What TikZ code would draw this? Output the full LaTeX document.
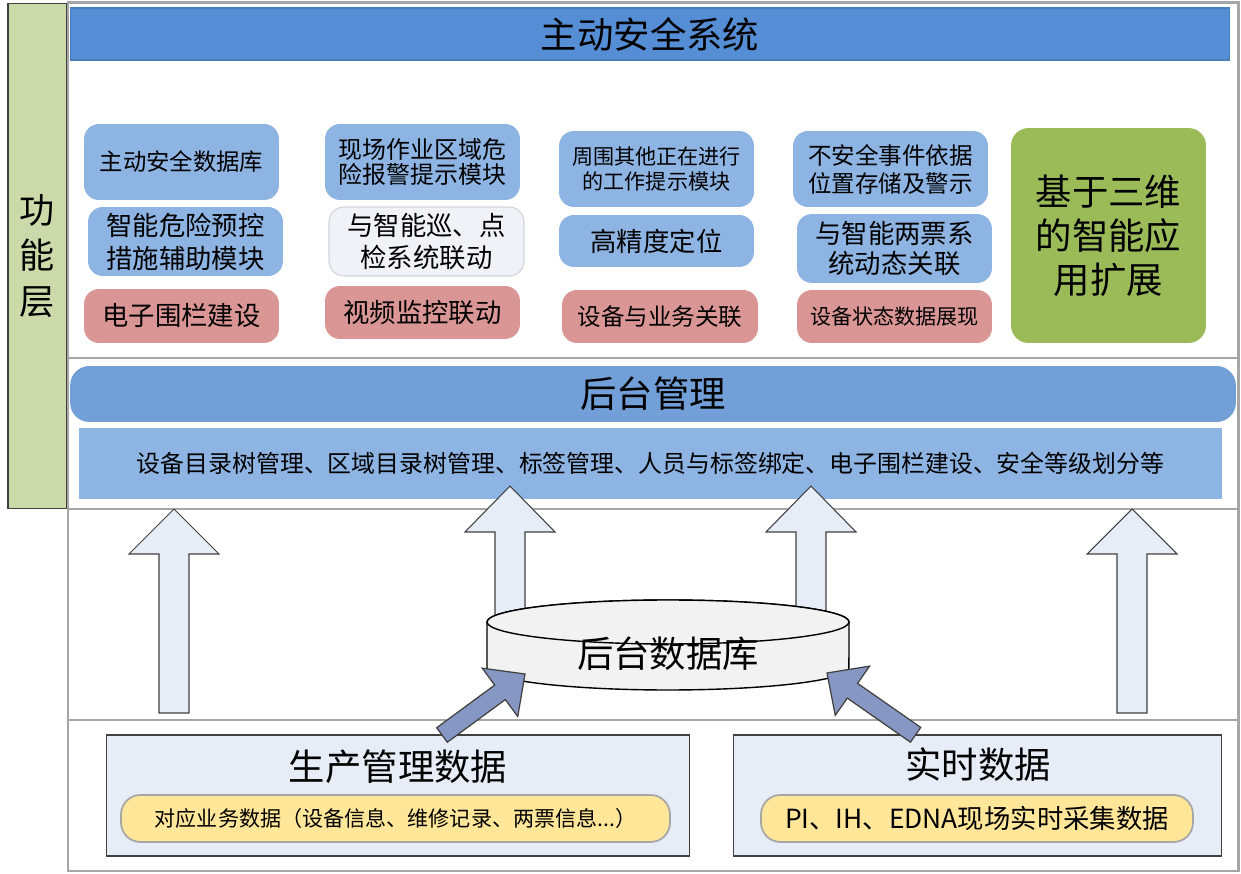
\documentclass[tikz,border=0pt]{standalone}
\usepackage{fontspec}
\setmainfont{Noto Sans CJK SC}
\usepackage{tikz}
\usetikzlibrary{positioning}

\definecolor{framegray}{RGB}{166,166,166}
\definecolor{edgedark}{RGB}{64,64,64}
\definecolor{layergreen}{RGB}{204,218,169}
\definecolor{sysblue}{RGB}{85,142,213}
\definecolor{sysedge}{RGB}{74,126,187}
\definecolor{mgmtblue}{RGB}{114,159,216}
\definecolor{lightblue}{RGB}{141,180,226}
\definecolor{modpinkc}{RGB}{218,150,148}
\definecolor{modgreenc}{RGB}{155,187,89}
\definecolor{palegray}{RGB}{239,242,247}
\definecolor{paleedge}{RGB}{208,212,218}
\definecolor{arrowfill}{RGB}{231,237,247}
\definecolor{diagfill}{RGB}{134,151,196}
\definecolor{dbgray}{RGB}{242,242,242}
\definecolor{paleyellow}{RGB}{255,230,153}

\tikzset{
  layerframe/.style={draw=framegray, line width=1.7pt},
  boxbase/.style={inner sep=0pt, align=center},
  boxsize/.style 2 args={minimum width=#1cm, minimum height=#2cm},
  modblue/.style={boxbase, fill=lightblue, rounded corners=8.5pt},
  modpink/.style={boxbase, fill=modpinkc, rounded corners=8.5pt},
  modgray/.style={boxbase, fill=palegray, draw=paleedge, line width=0.6pt, rounded corners=8.5pt},
  modgreen/.style={boxbase, fill=modgreenc, rounded corners=10pt},
  uparrow/.style={fill=arrowfill, draw=edgedark, line width=0.6pt},
  dataarrow/.style={fill=diagfill, draw=edgedark, line width=0.7pt},
  databox/.style={boxbase, fill=arrowfill, draw=edgedark, line width=0.6pt},
  yellowbox/.style={boxbase, fill=paleyellow, draw=framegray, line width=1pt, rounded corners=11pt}
}

\newcommand{\bigtext}{\fontsize{20.7}{25}\selectfont}

% block arrow pointing up: centre x, bottom y, tip y, head base y
\newcommand{\upblock}[4]{%
  \draw[uparrow] ({#1-15},#2) -- ({#1-15},#4) -- ({#1-45},#4) -- (#1,#3)
    -- ({#1+45},#4) -- ({#1+15},#4) -- ({#1+15},#2) -- cycle;}

% slanted block arrow: tip, direction back to the tail, length
\newcommand{\diagblock}[3]{%
  \begin{scope}[shift={#1}, rotate=#2]
    \draw[dataarrow] (0,0) -- (31,30) -- (31,9) -- (#3,9) -- (#3,-9)
      -- (31,-9) -- (31,-30) -- cycle;
  \end{scope}}

\begin{document}
\begin{tikzpicture}[x=0.02cm, y=-0.02cm]
    \useasboundingbox (0,0) rectangle (1241,874);
    % Layer label
    \node[boxbase, boxsize={1.18}{10.12}, fill=layergreen, draw=edgedark, line width=0.6pt,
      font=\fontsize{20}{26}\selectfont] (layer) at (37.5,256) {功\\能\\层};
    % Frames
    \draw[layerframe] (68,3) rectangle (1238,358);
    \draw[layerframe] (68,358) rectangle (1238,509);
    \draw[layerframe] (68,509) rectangle (1238,720);
    \draw[layerframe] (68,720) rectangle (1238,871);
    % Active safety system
    \node[boxbase, boxsize={23.2}{1.04}, fill=sysblue, draw=sysedge, line width=0.6pt,
      font=\bigtext] (sys) at (650,34) {主动安全系统};
    % Modules
    \node[modblue, boxsize={3.9}{1.52}, font=\fontsize{13.3}{16}\selectfont] (safedb) at (181.5,162) {主动安全数据库};
    \node[modblue, boxsize={3.9}{1.38}, font=\fontsize{15}{18.7}\selectfont] (precontrol) at (185.5,241.5) {智能危险预控\\措施辅助模块};
    \node[modpink, boxsize={3.9}{1.08}, font=\fontsize{15}{18.7}\selectfont] (fence) at (181.5,316) {电子围栏建设};
    \node[modblue, boxsize={3.9}{1.52}, font=\fontsize{13.6}{14.7}\selectfont] (alarm) at (422.5,162) {现场作业区域危\\险报警提示模块};
    \node[modgray, boxsize={3.9}{1.38}, font=\fontsize{15}{18.7}\selectfont] (patrol) at (426.5,241.5) {与智能巡、点\\检系统联动};
    \node[modpink, boxsize={3.9}{1.06}, font=\fontsize{15}{18.7}\selectfont] (video) at (422.5,312.5) {视频监控联动};
    \node[modblue, boxsize={3.9}{1.52}, font=\fontsize{12}{14.2}\selectfont] (nearby) at (656.5,169) {周围其他正在进行\\的工作提示模块};
    \node[modblue, boxsize={3.9}{1.04}, font=\fontsize{15}{18.7}\selectfont] (locate) at (656.5,241) {高精度定位};
    \node[modpink, boxsize={3.92}{1.06}, font=\fontsize{13.4}{16}\selectfont] (devlink) at (660,316.5) {设备与业务关联};
    \node[modblue, boxsize={3.9}{1.52}, font=\fontsize{13.4}{15.9}\selectfont] (unsafe) at (890.5,169) {不安全事件依据\\位置存储及警示};
    \node[modblue, boxsize={3.9}{1.38}, font=\fontsize{15}{17}\selectfont] (tickets) at (894.5,248.5) {与智能两票系\\统动态关联};
    \node[modpink, boxsize={3.9}{1.06}, font=\fontsize{12}{14.2}\selectfont] (devstate) at (894.5,316.5) {设备状态数据展现};
    \node[modgreen, boxsize={3.9}{4.3}, font=\bigtext] (threed) at (1108.5,235.5) {基于三维\\的智能应\\用扩展};
    % Back-end management
    \node[boxbase, boxsize={23.32}{1.12}, fill=mgmtblue, rounded corners=11pt, font=\bigtext] (mgmt) at (653,394) {后台管理};
    \node[boxbase, boxsize={22.86}{1.42}, fill=lightblue, font=\fontsize{13.6}{16}\selectfont] (mgmtlist) at (650.5,463.5)
      {设备目录树管理、区域目录树管理、标签管理、人员与标签绑定、电子围栏建设、安全等级划分等};
    % Up arrows
    \upblock{174}{713}{509}{554}
    \upblock{1132}{713}{509}{554}
    \upblock{510}{618}{486}{532}
    \upblock{811}{618}{486}{532}
    % Back-end database
    \draw[fill=dbgray, draw=black, line width=0.8pt] (487,622) -- (487,668)
      arc[start angle=180, end angle=360, x radius=3.62cm, y radius=0.44cm]
      -- (849,622) arc[start angle=0, end angle=180, x radius=3.62cm, y radius=0.44cm] -- cycle;
    \draw[fill=dbgray, draw=black, line width=0.8pt] (668,622) ellipse [x radius=3.62cm, y radius=0.44cm];
    \node[font=\bigtext] (backdb) at (668,654) {后台数据库};
    % Data sources
    \node[databox, boxsize={11.68}{2.42}] (prod) at (398,795.5) {};
    \node[font=\bigtext] (prodtitle) at (398,767) {生产管理数据};
    \node[yellowbox, boxsize={10.98}{0.94}, font=\fontsize{12}{14}\selectfont] (prodsub) at (395.5,818.5)
      {对应业务数据（设备信息、维修记录、两票信息...）};
    \node[databox, boxsize={9.78}{2.42}] (realtime) at (977.5,795.5) {};
    \node[font=\bigtext] (rttitle) at (978,765) {实时数据};
    \node[yellowbox, boxsize={8.64}{0.94}, font=\fontsize{15}{17}\selectfont] (rtsub) at (977,818.5)
      {PI、IH、EDNA现场实时采集数据};
    % Slanted arrows into the database
    \diagblock{(525,674)}{216.3}{103}
    \diagblock{(827,673)}{-34.9}{108}
\end{tikzpicture}
\end{document}
